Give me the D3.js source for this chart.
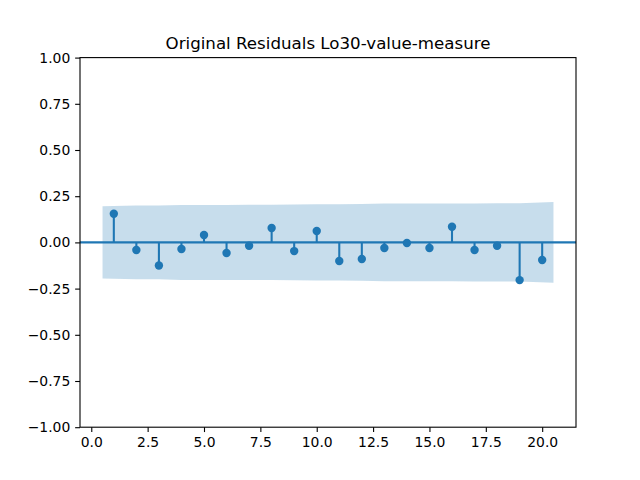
<!DOCTYPE html>
<html>
<head>
<meta charset="utf-8">
<script src="https://cdn.jsdelivr.net/npm/d3@7"></script>
<style>
  body { margin: 0; background: #fff; }
  svg text { font-family: "DejaVu Sans", sans-serif; fill: #000; }
</style>
</head>
<body>
<svg id="canvas" width="640" height="480"></svg>
<script>
'use strict';

/* values */
const lags = [1, 2, 3, 4, 5, 6, 7, 8, 9, 10, 11, 12, 13, 14, 15, 16, 17, 18, 19, 20];
const acf = [0.155, -0.041, -0.125, -0.036, 0.040, -0.057, -0.018, 0.078, -0.047, 0.062,
             -0.101, -0.090, -0.030, -0.003, -0.030, 0.085, -0.041, -0.018, -0.204, -0.095];
// half width of the confidence band at each lag
const band = [0.195, 0.200, 0.200, 0.203, 0.203, 0.203, 0.204, 0.204, 0.205, 0.206,
              0.206, 0.208, 0.210, 0.210, 0.210, 0.210, 0.211, 0.212, 0.212, 0.219];
// band x positions (ends pushed out by half a lag, like statsmodels)
const bandX = [0.5, 2, 3, 4, 5, 6, 7, 8, 9, 10, 11, 12, 13, 14, 15, 16, 17, 18, 19, 20.5];
const xTicks = [0, 2.5, 5, 7.5, 10, 12.5, 15, 17.5, 20];
const yTicks = [-1, -0.75, -0.5, -0.25, 0, 0.25, 0.5, 0.75, 1];
const title = 'Original Residuals Lo30-value-measure';

const W = 640, H = 480;
const margin = { left: 80, right: 64, top: 57.6, bottom: 52.8 };
const C0 = '#1f77b4';

const X = d3.scaleLinear().domain([-0.5, 21.5]).range([margin.left, W - margin.right]);
const Y = d3.scaleLinear().domain([-1, 1]).range([H - margin.bottom, margin.top]);

const svg = d3.select('#canvas');
const fmtMinus = s => s.replace('-', '\u2212');

/* confidence band */
const area = d3.area()
  .x((d, i) => X(bandX[i]))
  .y0(d => Y(-d))
  .y1(d => Y(d));
svg.append('path')
  .datum(band)
  .attr('d', area)
  .attr('fill', C0)
  .attr('fill-opacity', 0.25)
  .attr('stroke', 'none');

/* zero line */
svg.append('line')
  .attr('x1', X.range()[0]).attr('x2', X.range()[1])
  .attr('y1', Y(0)).attr('y2', Y(0))
  .attr('stroke', C0).attr('stroke-width', 2.08);

/* stems and markers */
const pts = lags.map((l, i) => ({ lag: l, v: acf[i] }));
svg.append('g').selectAll('line')
  .data(pts).enter().append('line')
  .attr('x1', d => X(d.lag)).attr('x2', d => X(d.lag))
  .attr('y1', Y(0)).attr('y2', d => Y(d.v))
  .attr('stroke', C0).attr('stroke-width', 2.08);
svg.append('g').selectAll('circle')
  .data(pts).enter().append('circle')
  .attr('cx', d => X(d.lag)).attr('cy', d => Y(d.v))
  .attr('r', 4.2)
  .attr('fill', C0);

/* axes */
const xAxis = d3.axisBottom(X).tickValues(xTicks).tickFormat(d3.format('.1f'))
  .tickSizeInner(4.86).tickSizeOuter(0).tickPadding(4.86);
const yAxis = d3.axisLeft(Y).tickValues(yTicks).tickFormat(d => fmtMinus(d3.format('.2f')(d)))
  .tickSizeInner(4.86).tickSizeOuter(0).tickPadding(4.86);

const gx = svg.append('g')
  .attr('transform', 'translate(0,' + (H - margin.bottom) + ')')
  .call(xAxis);
const gy = svg.append('g')
  .attr('transform', 'translate(' + margin.left + ',0)')
  .call(yAxis);
[gx, gy].forEach(g => {
  g.select('.domain').remove();
  g.selectAll('.tick line').attr('stroke', '#000').attr('stroke-width', 1.1);
  g.selectAll('.tick text').attr('font-size', 13.9).attr('font-family', '"DejaVu Sans", sans-serif');
});

/* frame */
svg.append('rect')
  .attr('x', margin.left).attr('y', margin.top)
  .attr('width', W - margin.left - margin.right)
  .attr('height', H - margin.top - margin.bottom)
  .attr('fill', 'none').attr('stroke', '#000').attr('stroke-width', 1.1);

/* title */
svg.append('text')
  .attr('x', (margin.left + W - margin.right) / 2)
  .attr('y', margin.top - 8.33)
  .attr('text-anchor', 'middle')
  .attr('font-size', 16.67)
  .text(title);
</script>
</body>
</html>
